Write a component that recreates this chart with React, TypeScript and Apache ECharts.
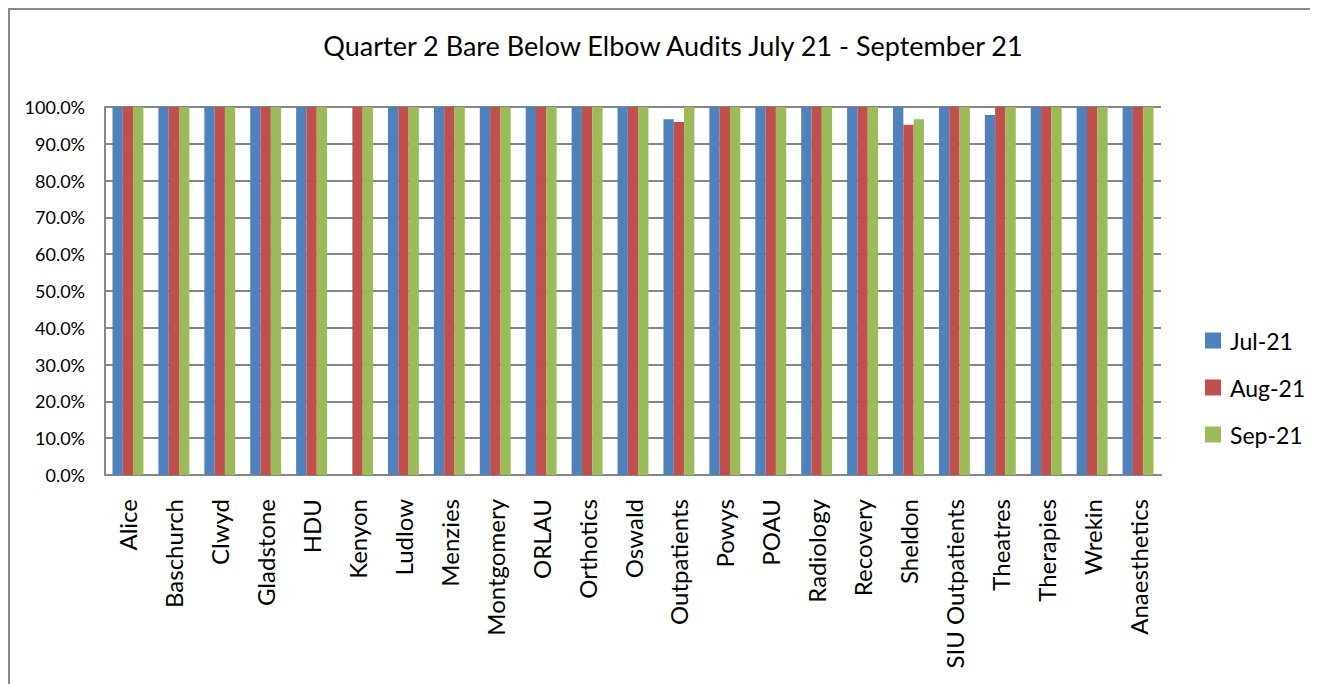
import React, { useEffect, useRef } from "react";
import * as echarts from "echarts";

const categories = [
  "Alice", "Baschurch", "Clwyd", "Gladstone", "HDU", "Kenyon", "Ludlow", "Menzies",
  "Montgomery", "ORLAU", "Orthotics", "Oswald", "Outpatients", "Powys", "POAU",
  "Radiology", "Recovery", "Sheldon", "SIU Outpatients", "Theatres", "Therapies",
  "Wrekin", "Anaesthetics",
];
const jul21 = [100, 100, 100, 100, 100, 0, 100, 100, 100, 100, 100, 100, 96.7, 100, 100, 100, 100, 100, 100, 97.8, 100, 100, 100];
const aug21 = [100, 100, 100, 100, 100, 100, 100, 100, 100, 100, 100, 100, 95.9, 100, 100, 100, 100, 95.2, 100, 100, 100, 100, 100];
const sep21 = [100, 100, 100, 100, 100, 100, 100, 100, 100, 100, 100, 100, 100, 100, 100, 100, 100, 96.7, 100, 100, 100, 100, 100];
const seriesNames = ["Jul-21", "Aug-21", "Sep-21"];
const colors = ["#4F81BD", "#C0504D", "#9BBB59"];
const yTicks = { min: 0, max: 100, interval: 10 };

const FONT = "Lato, 'Liberation Sans', sans-serif";

export default function App() {
  const ref = useRef<HTMLDivElement>(null);
  useEffect(() => {
    if (!ref.current) return;
    const chart = echarts.init(ref.current, null, { renderer: "svg" });
    const data = [jul21, aug21, sep21];
    chart.setOption({
      animation: false,
      textStyle: { fontFamily: FONT },
      title: {
        text: "Quarter 2 Bare Below Elbow Audits July 21 - September 21",
        left: 660,
        textAlign: "center",
        top: 19,
        textStyle: { fontFamily: FONT, fontSize: 27, fontWeight: "normal", color: "#000" },
      },
      graphic: [
        {
          type: "rect",
          shape: { x: 1, y: 1, width: 1400, height: 800 },
          style: { fill: "none", stroke: "#8a8a8a", lineWidth: 2 },
          silent: true,
        },
      ],
      legend: {
        orient: "vertical",
        left: 1192,
        top: 316,
        itemWidth: 16,
        itemHeight: 16,
        itemGap: 24,
        icon: "rect",
        data: seriesNames,
        textStyle: { fontFamily: FONT, fontSize: 23, color: "#000", padding: [0, 0, 0, 4] },
      },
      grid: { left: 97, top: 99, right: 157, height: 368, containLabel: false },
      xAxis: {
        type: "category",
        data: categories,
        axisLine: { lineStyle: { color: "#868686", width: 2 } },
        axisTick: { show: false },
        axisLabel: {
          rotate: 90,
          interval: 0,
          margin: 24,
          fontSize: 24,
          color: "#000",
          fontFamily: FONT,
        },
      },
      yAxis: {
        type: "value",
        min: yTicks.min,
        max: yTicks.max,
        interval: yTicks.interval,
        axisLine: { show: true, lineStyle: { color: "#868686", width: 2 } },
        axisTick: { show: false },
        splitLine: { lineStyle: { color: "#868686", width: 2 } },
        axisLabel: {
          margin: 20,
          fontSize: 18,
          color: "#000",
          fontFamily: FONT,
          formatter: (v: number) => v.toFixed(1) + "%",
        },
      },
      series: seriesNames.map((name, i) => ({
        name,
        type: "bar",
        data: data[i],
        barWidth: 10.3,
        barGap: "0%",
        itemStyle: { color: colors[i] },
      })),
    });
    return () => chart.dispose();
  }, []);
  return <div ref={ref} style={{ width: 1310, height: 676 }} />;
}
